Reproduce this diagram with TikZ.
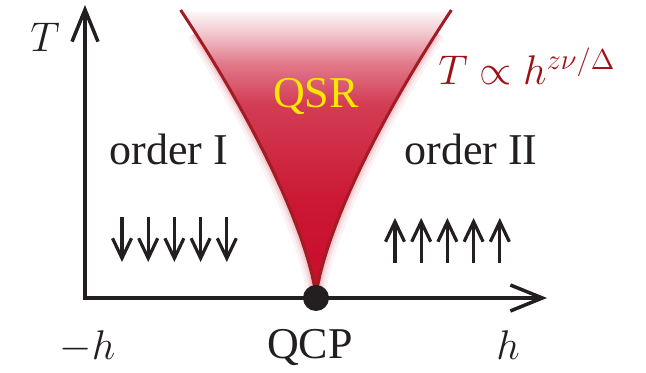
\documentclass[tikz,border=0pt]{standalone}
\usepackage{fontspec}
\setmainfont{Liberation Serif}
\usetikzlibrary{arrows.meta}
\definecolor{axisblack}{RGB}{35,31,32}
\definecolor{qsrred}{RGB}{200,12,42}
\definecolor{edgered}{RGB}{162,28,36}
\definecolor{lawred}{RGB}{158,18,22}
\definecolor{qsryellow}{RGB}{255,232,0}
\pgfdeclareverticalshading{qsrfade}{100bp}{color(0bp)=(qsrred); color(25bp)=(qsrred);
  color(42bp)=(qsrred!95); color(59bp)=(qsrred!80); color(66bp)=(qsrred!55);
  color(71bp)=(qsrred!25); color(75bp)=(qsrred!4); color(100bp)=(qsrred!4)}

\begin{document}
\begin{tikzpicture}[x=0.5pt, y=0.5pt,
    declare function={qsr(\t)=0.0488*\t^1.4;},
    lbl/.style={font=\rmfamily\fontsize{22}{26}\selectfont, text=axisblack, inner sep=0pt, anchor=base},
    axis/.style={axisblack, line width=1.75pt,
        {Straight Barb[length=16pt,width=13pt]}-{Straight Barb[length=16pt,width=13pt]}},
    spin/.style={axisblack, line width=1.6pt, -{Straight Barb[length=10pt,width=9.5pt]}}]
    \useasboundingbox (-85,-75) rectangle (561,298);

    % quantum scaling region
    \foreach \w/\o in {9pt/0.12, 6pt/0.18, 3.5pt/0.3} {
        \draw[qsrred!45, line width=\w, opacity=\o]
            plot[domain=0.01:265, variable=\t] ({231+qsr(\t)},\t);
        \draw[qsrred!45, line width=\w, opacity=\o]
            plot[domain=0.01:265, variable=\t] ({231-qsr(\t)},\t);
    }
    \shade[shading=qsrfade] (231,0)
        -- plot[domain=0.01:286, variable=\t] ({231+qsr(\t)},\t)
        -- plot[domain=286:0.01, variable=\t] ({231-qsr(\t)},\t) -- cycle;
    \draw[edgered, line width=1.5pt]
        plot[domain=0.01:288, variable=\t] ({231+qsr(\t)},\t);
    \draw[edgered, line width=1.5pt]
        plot[domain=0.01:288, variable=\t] ({231-qsr(\t)},\t);

    \coordinate (O) at (0,0);
    \coordinate (Ttop) at (0,293);
    \coordinate (hend) at (462,0);
    \draw[axis] (Ttop) |- (hend);

    \node[circle, fill=axisblack, minimum size=13pt, inner sep=0pt] (qcpdot) at (231,0) {};

    \node[lbl] (Tlab) at (-40,246) {$T$};
    \node[lbl] (hneg) at (2.5,-62) {$-h$};
    \node[lbl] (qcp) at (225,-61) {QCP};
    \node[lbl] (hpos) at (423,-62) {$h$};

    \node[lbl] (orderI) at (84,133) {order I};
    \node[lbl] (orderII) at (386,133) {order II};
    \node[lbl, text=qsryellow] (qsr) at (231,190) {QSR};
    \node[lbl, text=lawred, anchor=base west] (law) at (353,213) {$T\propto h^{z\nu/\Delta}$};

    \foreach \i in {0,...,4} {
        \coordinate (dn\i) at ({37+26.2*\i},81);
        \coordinate (dm\i) at ({37+26.2*\i},36);
        \draw[spin] (dn\i) -- (dm\i);
        \coordinate (up\i) at ({310+26.2*\i},35);
        \coordinate (uq\i) at ({310+26.2*\i},80);
        \draw[spin] (up\i) -- (uq\i);
    }
\end{tikzpicture}
\end{document}
